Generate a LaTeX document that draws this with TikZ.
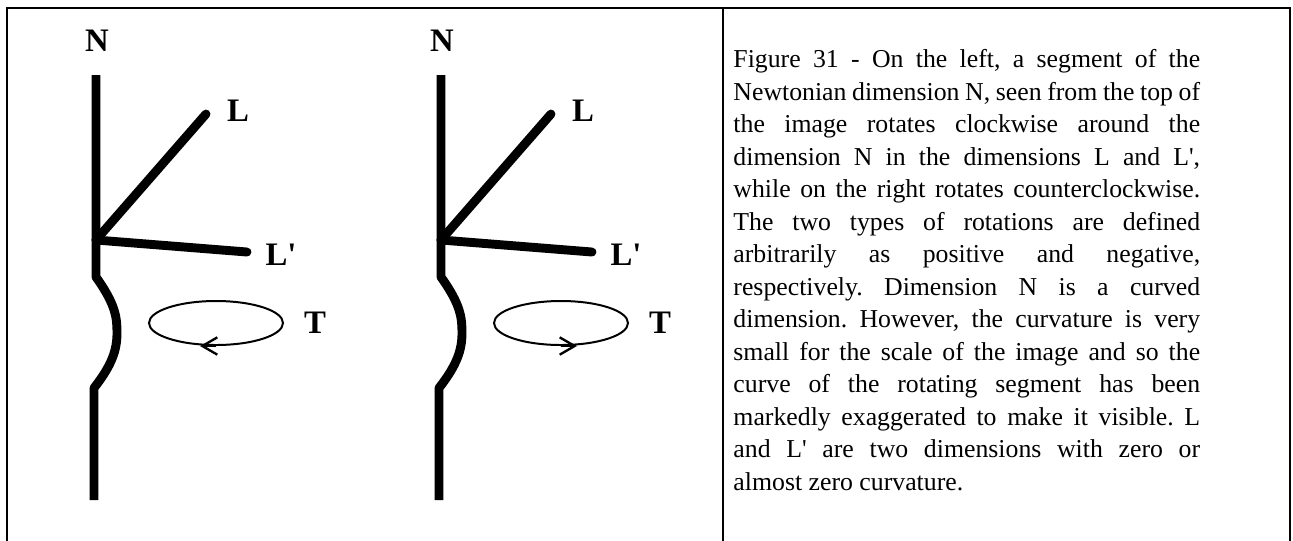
\documentclass[tikz,border=0pt]{standalone}
\usepackage{fontspec}
\setmainfont{Liberation Serif}[Ligatures=TeXOff]
\usepackage{tikz}
\usetikzlibrary{arrows.meta, calc}

\begin{document}
\begin{tikzpicture}[
  x=0.015cm, y=-0.015cm,
  frame/.style={line width=0.85pt},
  axis/.style={line width=3.8pt, line join=round},
  dim/.style={line width=3.8pt, line cap=round},
  spin/.style={line width=0.85pt},
  spinarr/.style={line width=1pt, -{Straight Barb[length=6.4pt, width=7.4pt]}},
  lbl/.style={font=\bfseries\fontsize{14}{16}\selectfont, inner sep=0pt},
  caption/.style={font=\fontsize{11}{13.87}\selectfont\frenchspacing,
                  text width=7.0cm, align=justify, inner sep=0pt, anchor=north west}
]
  \useasboundingbox (0,0) rectangle (1293,540);

  % Frame and divider
  \coordinate (tl) at (7,8);
  \coordinate (tr) at (1290,8);
  \coordinate (mid) at (723,8);
  \draw[frame] (tl |- 0,545) -- (tl) -- (tr) -- (tr |- 0,545);
  \draw[frame] (mid) -- (mid |- 0,545);

  % Two rotating segments (left: clockwise, right: counterclockwise)
  \foreach \ax/\dir/\fig in {96/-1/a, 441/1/b} {
    \coordinate (top\fig)  at (\ax,75);
    \coordinate (knot\fig) at (\ax,240);
    \coordinate (bs\fig)   at (\ax,277);
    \coordinate (be\fig)   at (\ax-2,388);
    \coordinate (bot\fig)  at (\ax-2,500);
    \coordinate (L\fig)    at (\ax+110,114);
    \coordinate (Lp\fig)   at (\ax+151,252);
    \coordinate (c\fig)    at (\ax+120,323);

    \node[lbl] (N\fig)   at (\ax+1,41)    {N};
    \node[lbl] (nL\fig)  at (\ax+142,111) {L};
    \node[lbl] (nLp\fig) at (\ax+185,255) {L'};
    \node[lbl] (T\fig)   at (\ax+219,323) {T};

    % dimension N with the curved segment
    \draw[axis] (top\fig) -- (bs\fig)
      .. controls (\ax+20,305) and (\ax+21,318) .. (\ax+21,333)
      .. controls (\ax+21,350) and (\ax+16,365) .. (be\fig) -- (bot\fig);
    % dimensions L and L'
    \draw[dim] (knot\fig) -- (L\fig);
    \draw[dim] (knot\fig) -- (Lp\fig);
    % rotation
    \draw[spin] (c\fig) ellipse [x radius=67, y radius=22];
    \draw[spinarr] ($(c\fig)+(0,23)$) -- ($(c\fig)+(\dir*16,23)$);
  }

  % Caption
  \node[caption] (cap) at (733,49) {Figure 31 - On the left, a segment of the\linebreak
    Newtonian dimension N, seen from the top of\linebreak
    the image rotates clockwise around the\linebreak
    dimension N in the dimensions L and L',\linebreak
    while on the right rotates counterclockwise.\linebreak
    The two types of rotations are defined\linebreak
    arbitrarily as positive and negative,\linebreak
    respectively. Dimension N is a curved\linebreak
    dimension. However, the curvature is very\linebreak
    small for the scale of the image and so the\linebreak
    curve of the rotating segment has been\linebreak
    markedly exaggerated to make it visible. L\linebreak
    and L' are two dimensions with zero or\linebreak
    almost zero curvature.};
\end{tikzpicture}
\end{document}
